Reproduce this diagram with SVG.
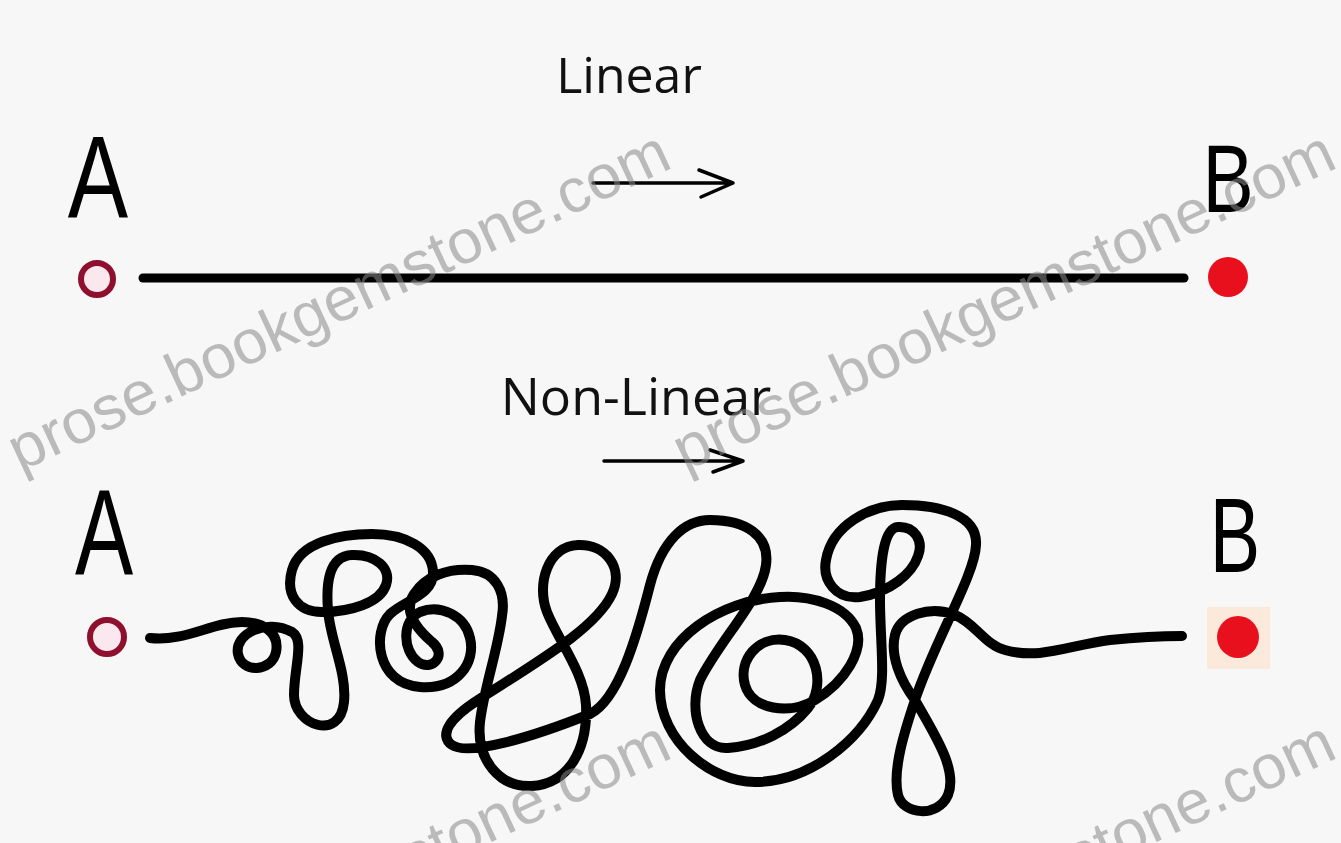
<svg xmlns="http://www.w3.org/2000/svg" width="1341" height="843" viewBox="0 0 1341 843">
<defs>
<style>
.lbl{font-family:"Open Sans","Liberation Sans",sans-serif;fill:#111;}
.let{font-family:"Liberation Sans",Arial,sans-serif;fill:#000;text-anchor:middle;}
.wm{font-family:"Liberation Sans",Arial,sans-serif;font-size:62px;fill:#8a8a8a;opacity:.55;}
.ring{fill:#fbe8ee;stroke:#8e0f2e;stroke-width:6;}
.dot{fill:#e8101c;}
.thick{fill:none;stroke:#000;stroke-linecap:round;stroke-linejoin:round;}
.arr{fill:none;stroke:#000;stroke-width:3.5;stroke-linecap:round;stroke-linejoin:round;}
</style>
</defs>
<rect x="0" y="0" width="1341" height="843" fill="#f7f7f7"/>

<g id="title-linear"><text class="lbl" x="629" y="93" font-size="50" text-anchor="middle">Linear</text></g>
<g id="title-nonlinear"><text class="lbl" x="636" y="415" font-size="52" text-anchor="middle">Non-Linear</text></g>

<g id="node-A1">
<text class="let" transform="translate(98,218) scale(0.78,1)" font-size="116">A</text>
<circle class="ring" cx="97" cy="279" r="16"/>
</g>
<g id="node-B1">
<text class="let" transform="translate(1228,212) scale(0.8,1)" font-size="96">B</text>
<circle class="dot" cx="1228" cy="277" r="20"/>
</g>
<g id="node-A2">
<text class="let" transform="translate(104,575) scale(0.71,1)" font-size="123">A</text>
<circle class="ring" cx="107" cy="637" r="17"/>
</g>
<g id="node-B2">
<rect x="1207" y="607" width="63" height="62" fill="#fbeadb"/>
<text class="let" transform="translate(1235,572) scale(0.72,1)" font-size="105">B</text>
<circle class="dot" cx="1238" cy="637" r="21"/>
</g>

<g id="connectors">
<line class="thick" x1="143" y1="278" x2="1184" y2="278" stroke-width="9"/>
<path class="arr" d="M593,183 H733 M699,170 L733,183 L701,197"/>
<path class="arr" d="M604,461 H743 M710,450 L743,461 L713,472"/>
<path class="thick" stroke-width="10" d="M150,638 C185,642 212,622 242,622 C262,622 280,632 276,652 C272,672 242,674 238,654 C234,634 266,618 292,632 C305,640 294,668 294,695 C294,725 340,742 344,702 C347,672 330,640 328,610 C326,585 328,556 352,555 C375,554 392,568 386,585 C380,603 350,612 322,612 C298,612 285,595 292,570 C300,542 340,534 372,534 C405,534 432,548 433,572 C434,595 405,600 390,614 C372,632 376,684 420,687 C458,690 476,662 470,638 C465,615 440,604 420,612 C402,620 402,650 418,662 C432,672 448,655 432,642 C418,630 402,612 414,594 C426,576 448,568 472,570 C496,572 506,592 502,616 C498,650 484,688 480,722 C476,760 500,788 532,786 C568,784 588,750 586,705 C584,672 558,640 547,612 C536,584 548,546 578,545 C606,544 624,568 612,594 C596,628 540,660 478,700 C450,718 438,735 452,745 C468,756 530,738 590,714 C618,700 636,640 650,585 C662,540 685,520 710,520 C745,520 770,535 766,565 C762,598 720,640 700,680 C688,710 700,750 728,748 C760,746 790,730 808,708 C826,686 818,645 785,640 C758,636 738,660 745,685 C752,710 790,715 815,700 C845,682 865,650 856,628 C845,605 810,595 780,597 C720,600 660,640 660,690 C660,740 710,782 755,782 C810,782 860,740 878,700 C886,680 880,640 880,600 C880,560 884,528 898,527 C914,526 924,540 918,556 C912,574 890,592 860,597 C836,600 822,580 826,560 C832,525 870,505 902,505 C940,505 978,515 976,545 C975,575 935,640 915,700 C905,730 892,770 898,795 C903,815 938,818 948,795 C958,770 935,735 915,700 C900,680 890,655 895,635 C900,615 930,605 955,615 C975,623 985,645 1005,650 C1040,660 1070,645 1110,640 C1140,637 1165,636 1182,636"/>
</g>

<g id="watermarks">
<text class="wm" transform="translate(20,472) rotate(-25)" textLength="722" lengthAdjust="spacingAndGlyphs">prose.bookgemstone.com</text>
<text class="wm" transform="translate(685,472) rotate(-25)" textLength="722" lengthAdjust="spacingAndGlyphs">prose.bookgemstone.com</text>
<text class="wm" transform="translate(20,1062) rotate(-25)" textLength="722" lengthAdjust="spacingAndGlyphs">prose.bookgemstone.com</text>
<text class="wm" transform="translate(685,1062) rotate(-25)" textLength="722" lengthAdjust="spacingAndGlyphs">prose.bookgemstone.com</text>
</g>
</svg>
